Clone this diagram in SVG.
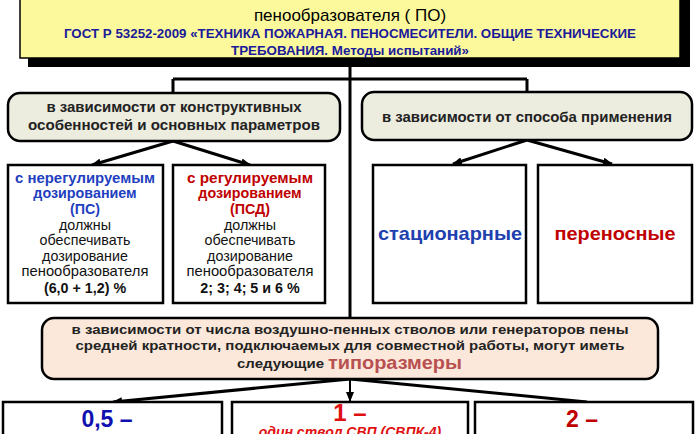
<svg xmlns="http://www.w3.org/2000/svg" width="696" height="434" viewBox="0 0 696 434">
<defs>
<marker id="ah" markerWidth="10" markerHeight="8" refX="9" refY="4" orient="auto" markerUnits="userSpaceOnUse">
<path d="M0,0 L10,4 L0,8 Z" fill="#000"/>
</marker>
<style>
text{font-family:"Liberation Sans",Arial,sans-serif;text-anchor:middle}
.b{font-weight:bold}
.box{fill:#fff;stroke:#000;stroke-width:2.5}
.rb{stroke:#000;stroke-width:2.5}
.ln{stroke:#000;stroke-width:3;fill:none}
.blue{fill:#1f3fbf}
.red{fill:#c00000}
.m{font-size:14.3px}
</style>
</defs>
<rect width="696" height="434" fill="#fff"/>
<g id="top">
<rect x="28" y="-10" width="662" height="77" fill="#000"/>
<rect x="20" y="-18" width="660" height="76" fill="#fcf99c" stroke="#000" stroke-width="1.5"/>
<text x="350" y="21" font-size="17">пенообразователя ( ПО)</text>
<text x="350" y="38" font-size="13" class="b" fill="#1a1a9a" textLength="572" lengthAdjust="spacingAndGlyphs">ГОСТ Р 53252-2009 «ТЕХНИКА ПОЖАРНАЯ. ПЕНОСМЕСИТЕЛИ. ОБЩИЕ ТЕХНИЧЕСКИЕ</text>
<text x="350" y="55" font-size="13" class="b" fill="#1a1a9a" textLength="238" lengthAdjust="spacingAndGlyphs">ТРЕБОВАНИЯ. Методы испытаний»</text>
</g>
<g id="connectors">
<path class="ln" d="M350,67 V318"/>
<path class="ln" d="M173,79 H527"/>
<path class="ln" d="M173,79 V93"/>
<path class="ln" d="M527,79 V92"/>
<path class="ln" d="M173,141 L92,165" marker-end="url(#ah)"/>
<path class="ln" d="M173,141 L250,165" marker-end="url(#ah)"/>
<path class="ln" d="M527,140 L453,164" marker-end="url(#ah)"/>
<path class="ln" d="M527,140 L612,164" marker-end="url(#ah)"/>
<path class="ln" d="M350,379 L113,402" marker-end="url(#ah)"/>
<path stroke="#000" stroke-width="2" fill="none" d="M350,379 V401" marker-end="url(#ah)"/>
<path class="ln" d="M350,379 L587,402"/>
</g>
<g id="constr">
<rect x="8" y="93" width="332" height="48" rx="12" class="rb" fill="#ececdf"/>
<text x="174" y="112" font-size="14" class="b" fill="#222" textLength="255" lengthAdjust="spacingAndGlyphs">в зависимости от конструктивных</text>
<text x="174" y="130" font-size="14" class="b" fill="#222" textLength="292" lengthAdjust="spacingAndGlyphs">особенностей и основных параметров</text>
</g>
<g id="apply">
<rect x="362" y="92" width="330" height="48" rx="12" class="rb" fill="#ececdf"/>
<text x="527" y="122" font-size="14" class="b" fill="#222" textLength="290" lengthAdjust="spacingAndGlyphs">в зависимости от способа применения</text>
</g>
<g id="ps">
<rect x="8" y="165" width="155" height="138" class="box"/>
<text x="85" y="183" class="m b blue" textLength="140" lengthAdjust="spacingAndGlyphs">с нерегулируемым</text>
<text x="85" y="198" class="m b blue">дозированием</text>
<text x="85" y="214" class="m b blue">(ПС)</text>
<text x="85" y="230" class="m" fill="#111">должны</text>
<text x="85" y="245" class="m" fill="#111">обеспечивать</text>
<text x="85" y="261" class="m" fill="#111">дозирование</text>
<text x="85" y="276" class="m" fill="#111" textLength="127" lengthAdjust="spacingAndGlyphs">пенообразователя</text>
<text x="85" y="293" class="m b" fill="#111">(6,0 + 1,2) %</text>
</g>
<g id="psd">
<rect x="173" y="165" width="152" height="138" class="box"/>
<text x="250" y="183" class="m b red" textLength="126" lengthAdjust="spacingAndGlyphs">с  регулируемым</text>
<text x="250" y="198" class="m b red">дозированием</text>
<text x="250" y="214" class="m b red">(ПСД)</text>
<text x="250" y="230" class="m" fill="#111">должны</text>
<text x="250" y="245" class="m" fill="#111">обеспечивать</text>
<text x="250" y="261" class="m" fill="#111">дозирование</text>
<text x="250" y="276" class="m" fill="#111" textLength="127" lengthAdjust="spacingAndGlyphs">пенообразователя</text>
<text x="250" y="293" class="m b" fill="#111">2; 3; 4; 5 и 6 %</text>
</g>
<g id="stat">
<rect x="373" y="165" width="153" height="138" class="box"/>
<text x="450" y="240" font-size="19" class="b" fill="#2040b0" textLength="144" lengthAdjust="spacingAndGlyphs">стационарные</text>
</g>
<g id="port">
<rect x="538" y="165" width="154" height="138" class="box"/>
<text x="615" y="240" font-size="19" class="b red" textLength="121" lengthAdjust="spacingAndGlyphs">переносные</text>
</g>
<g id="sizes">
<rect x="42" y="318" width="616" height="61" rx="12" class="rb" fill="#fbe8da"/>
<text x="350" y="334" font-size="13" class="b" fill="#222" textLength="557" lengthAdjust="spacingAndGlyphs">в зависимости от числа воздушно-пенных стволов или генераторов пены</text>
<text x="350" y="350" font-size="13" class="b" fill="#222" textLength="549" lengthAdjust="spacingAndGlyphs">средней кратности, подключаемых для совместной работы, могут иметь</text>
<text x="237" y="368" font-size="13" class="b" fill="#222" style="text-anchor:start" textLength="87" lengthAdjust="spacingAndGlyphs">следующие</text>
<text x="328" y="369" font-size="19" class="b" fill="#b85050" style="text-anchor:start" textLength="134" lengthAdjust="spacingAndGlyphs">типоразмеры</text>
</g>
<g id="s05">
<rect x="3" y="402" width="219" height="50" class="box"/>
<text x="107" y="427" font-size="23" class="b" fill="#1010b0">0,5 –</text>
</g>
<g id="s1">
<rect x="232" y="402" width="236" height="50" class="box"/>
<text x="350" y="421" font-size="24" class="b" fill="#e01010">1 –</text>
<text x="350" y="437" font-size="14" class="b" fill="#e01010" font-style="italic">один ствол СВП (СВПК-4)</text>
</g>
<g id="s2">
<rect x="475" y="402" width="218" height="50" class="box"/>
<text x="582" y="427" font-size="23" class="b red">2 –</text>
</g>
</svg>
